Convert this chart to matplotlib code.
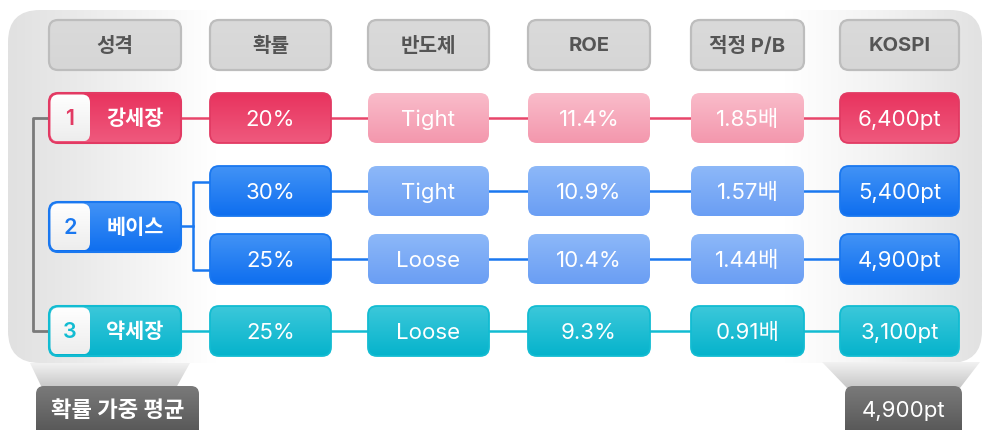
import numpy as np
import matplotlib
matplotlib.use('Agg')
import matplotlib.pyplot as plt
from matplotlib.patches import FancyBboxPatch, Polygon
from matplotlib.colors import LinearSegmentedColormap

plt.rcParams['font.family'] = ['Inter', 'Noto Sans CJK KR', 'DejaVu Sans']

# data
headers = ['성격', '확률', '반도체', 'ROE', '적정 P/B', 'KOSPI']
scenarios = ['강세장', '베이스', '약세장']
scenario_no = ['1', '2', '3']
prob = [20, 30, 25, 25]            # %
semis = ['Tight', 'Tight', 'Loose', 'Loose']
roe = [11.4, 10.9, 10.4, 9.3]      # %
pb = [1.85, 1.57, 1.44, 0.91]      # 배
kospi = [6400, 5400, 4900, 3100]   # pt
row_scenario = [0, 1, 1, 2]        # which scenario each path belongs to
weighted_label = '확률 가중 평균'
weighted_kospi = 4900

# layout (pixels)
W, H = 982, 430
cols = [(49, 181), (210, 331), (368, 489), (528, 650), (691, 804), (840, 959)]
header_y = (20, 70)
path_y = [118, 191, 259, 331]
scen_y = [118, 227, 331]
BH = 50

# palette per scenario: strong top/bottom, light top/bottom, edge, line
pal = [
    dict(s=('#E8335E', '#EF5A7E'), l=('#F9BCCA', '#F497AD'), e='#E23A63', line='#E8456A'),
    dict(s=('#4293F6', '#0E6EEF'), l=('#8DB8F8', '#6A9EF4'), e='#1A78F0', line='#1A78F0'),
    dict(s=('#3CC8DA', '#05B3CC'), l=('#3CC8DA', '#05B3CC'), e='#12BCD2', line='#12BCD2'),
]

fig = plt.figure(figsize=(W / 100, H / 100), dpi=100)
ax = fig.add_axes([0, 0, 1, 1])


def gradient(ax, patch, colors, extent, z, horizontal=False):
    cmap = LinearSegmentedColormap.from_list('g', colors)
    g = np.linspace(0, 1, 256)
    g = g[None, :] if horizontal else g[:, None]
    im = ax.imshow(g, cmap=cmap, extent=extent, origin='upper', aspect='auto',
                   zorder=z, interpolation='bicubic')
    im.set_clip_path(patch)
    return im


def box(ax, x0, x1, y0, y1, colors, edge='none', r=9, lw=1.3, z=3):
    p = FancyBboxPatch((x0, y0), x1 - x0, y1 - y0,
                       boxstyle=f'round,pad=0,rounding_size={r}',
                       fc='none', ec=edge, lw=lw, zorder=z + 0.5)
    ax.add_patch(p)
    gradient(ax, p, colors, (x0, x1, y1, y0), z)
    return p


# background panel with gray sides
panel = FancyBboxPatch((8, 10), 974, 353, boxstyle='round,pad=0,rounding_size=32',
                       fc='none', ec='none', zorder=0.5)
ax.add_patch(panel)
bg = LinearSegmentedColormap.from_list('bg', [
    (0.0, '#E1E1E1'), (0.07, '#EAEAEA'), (0.21, '#FFFFFF'),
    (0.80, '#FFFFFF'), (0.90, '#F2F2F2'), (1.0, '#E2E2E2')])
im = ax.imshow(np.linspace(0, 1, 512)[None, :], cmap=bg, extent=(8, 982, 363, 10),
               origin='upper', aspect='auto', zorder=0, interpolation='bicubic')
im.set_clip_path(panel)

# funnels to the summary boxes
for pts in ([(30, 363), (190, 363), (176, 388), (42, 388)],
            [(822, 362), (980, 362), (960, 388), (847, 388)]):
    poly = Polygon(pts, closed=True, fc='none', ec='none')
    ax.add_patch(poly)
    ys = [p[1] for p in pts]
    xs = [p[0] for p in pts]
    gradient(ax, poly, ['#F2F2F2', '#C6C6C6'], (min(xs), max(xs), max(ys), min(ys)), 0.8)

# summary boxes
for (x0, x1), txt, bold in (((36, 199), weighted_label, True),
                           ((845, 962), f'{weighted_kospi:,}pt', False)):
    box(ax, x0, x1, 386, 440, ['#7A7A7A', '#525252'], r=8, z=1)
    ax.text((x0 + x1) / 2, 411, txt, color='white', fontsize=16,
            fontweight='bold' if bold else 'normal', ha='center', va='center', zorder=5)

# headers
for (x0, x1), h in zip(cols, headers):
    box(ax, x0, x1, header_y[0], header_y[1], ['#DADADA', '#D6D6D6'],
        edge='#BDBDBD', lw=1.6, r=9)
    ax.text((x0 + x1) / 2, sum(header_y) / 2 + 1, h, color='#555555', fontsize=14.5,
            fontweight='bold', ha='center', va='center', zorder=5)

# connector lines
for i, y in enumerate(path_y):
    c = pal[row_scenario[i]]['line']
    ax.plot([cols[1][0], cols[5][0]], [y, y], color=c, lw=1.8, zorder=2,
            solid_capstyle='butt')
for s in (0, 2):
    ax.plot([cols[0][1], cols[1][0]], [scen_y[s]] * 2, color=pal[s]['line'], lw=1.8,
            zorder=2)
# brace for the two base paths
bx = 193
ax.plot([cols[0][1], bx], [scen_y[1] - 1] * 2, color=pal[1]['line'], lw=1.8, zorder=2)
ax.plot([cols[1][0], bx, bx, cols[1][0]], [path_y[1] - 9, path_y[1] - 9,
        path_y[2] + 11, path_y[2] + 11], color=pal[1]['line'], lw=1.8, zorder=2,
        solid_joinstyle='round')
# gray bracket on the left
ax.plot([cols[0][0], 33, 33, cols[0][0]], [scen_y[0], scen_y[0], scen_y[2], scen_y[2]],
        color='#7A7A7A', lw=2, zorder=2, solid_joinstyle='round')

# scenario boxes
for s, (name, no) in enumerate(zip(scenarios, scenario_no)):
    p = pal[s]
    y0, y1 = scen_y[s] - BH / 2, scen_y[s] + BH / 2
    x0, x1 = cols[0]
    box(ax, x0, x1, y0, y1, list(p['s']), edge=p['e'], lw=1.5)
    box(ax, x0 + 1.5, x0 + 41, y0 + 1.5, y1 - 1.5, ['#FFFFFF', '#EDEDED'], r=8, z=4)
    ax.text(x0 + 21, scen_y[s] + 1, no, color=p['e'], fontsize=15.5, fontweight='semibold',
            ha='center', va='center', zorder=6)
    ax.text(x0 + 86, scen_y[s] + 1, name, color='white', fontsize=15,
            fontweight='semibold', ha='center', va='center', zorder=6)

# path boxes
for i, y in enumerate(path_y):
    p = pal[row_scenario[i]]
    labels = [f'{prob[i]}%', semis[i], f'{roe[i]}%', f'{pb[i]:.2f}배', f'{kospi[i]:,}pt']
    for j, lab in enumerate(labels):
        x0, x1 = cols[j + 1]
        strong = j in (0, 4)
        colors = list(p['s'] if strong else p['l'])
        if strong or row_scenario[i] == 2:
            edge = p['e']
        else:
            edge = 'none'
        box(ax, x0, x1, y - BH / 2, y + BH / 2, colors, edge=edge, lw=1.3)
        ax.text((x0 + x1) / 2, y + 2, lab, color='white', fontsize=16,
                ha='center', va='center', zorder=6)

ax.set_xlim(0, W)
ax.set_ylim(H, 0)
ax.set_axis_off()
fig.savefig('out.png', dpi=100, facecolor='white')
